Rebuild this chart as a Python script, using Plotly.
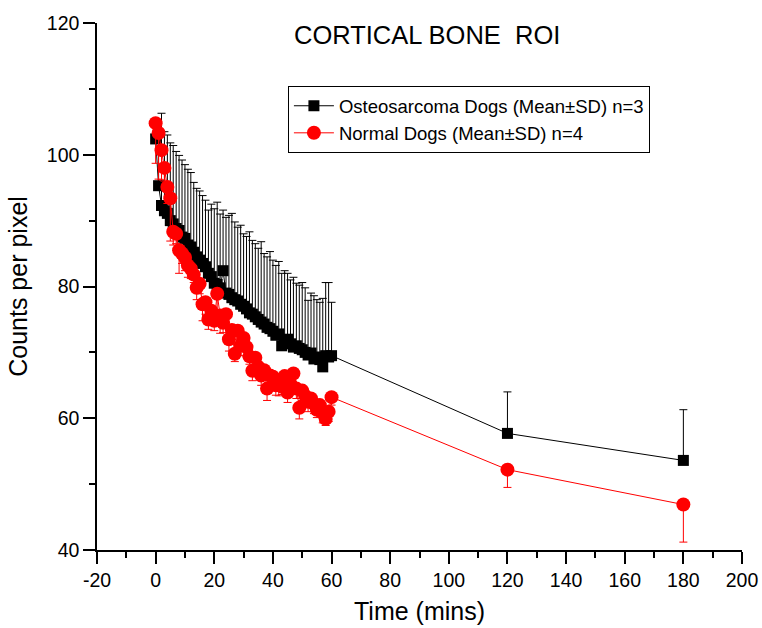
import plotly.graph_objects as go

# ---------------- data ----------------
time_min = list(range(0, 61)) + [120, 180]

osteo_mean = [102.4, 95.3, 92.3, 91.5, 91.1, 90.0, 89.5, 88.8, 88.5, 87.5,
              87.3, 86.3, 86.0, 85.2, 84.5, 84.0, 83.5, 83.0, 82.0, 81.5,
              80.5, 80.3, 79.8, 82.4, 79.0, 78.8, 78.3, 78.0, 77.8, 77.3,
              77.0, 76.6, 76.0, 75.8, 75.4, 75.0, 74.6, 74.3, 73.8, 73.6,
              73.2, 72.6, 72.8, 71.0, 71.8, 72.0, 71.3, 70.8, 71.0, 70.6,
              70.4, 70.0, 69.6, 69.9, 69.0, 69.3, 68.9, 67.8, 69.5, 69.3,
              69.5, 57.7, 53.6]
osteo_sd = [2.1, 8.2, 14.0, 12.0, 11.9, 11.8, 11.9, 11.7, 11.4, 11.7,
            11.2, 11.5, 11.3, 10.6, 10.4, 10.5, 10.3, 10.1, 9.6, 11.0,
            11.3, 12.5, 11.2, 9.2, 11.5, 12.0, 12.8, 11.8, 11.2, 12.0,
            11.0, 11.0, 12.3, 11.2, 11.1, 10.8, 12.2, 10.7, 10.7, 11.7,
            10.8, 10.6, 11.0, 11.0, 10.6, 10.0, 9.7, 10.6, 9.5, 9.6,
            10.2, 9.8, 8.3, 9.1, 9.6, 8.7, 8.7, 10.4, 11.1, 11.3,
            8.1, 6.3, 7.7]

normal_mean = [104.8, 103.3, 100.7, 98.0, 95.1, 93.4, 88.3, 88.0, 85.5, 85.0,
               84.4, 83.2, 82.7, 81.8, 79.8, 80.4, 77.3, 77.6, 75.0, 76.3,
               74.8, 78.9, 75.6, 74.5, 75.8, 72.0, 73.4, 69.8, 73.3, 71.0,
               72.2, 70.8, 69.4, 67.2, 69.2, 67.8, 66.5, 67.3, 64.5, 66.5,
               66.3, 65.0, 65.2, 64.8, 66.4, 63.9, 65.2, 66.8, 64.5, 61.6,
               64.2, 63.4, 62.5, 63.0, 62.2, 61.3, 62.0, 60.8, 59.9, 61.0,
               63.2, 52.2, 46.9]
normal_sd = [6.1, 7.0, 4.5, 2.0, 2.5, 6.5, 2.0, 1.5, 3.5, 1.5,
             2.0, 1.8, 1.5, 1.2, 1.8, 1.5, 2.5, 1.8, 1.5, 1.2,
             1.5, 3.3, 2.7, 1.5, 1.2, 1.8, 1.5, 1.2, 2.0, 1.5,
             1.8, 1.5, 1.2, 1.5, 2.3, 1.2, 1.5, 1.2, 1.8, 1.5,
             1.2, 1.5, 1.8, 1.2, 1.5, 1.5, 1.2, 1.8, 1.5, 1.7,
             1.5, 1.2, 1.5, 1.2, 1.5, 1.2, 1.5, 1.5, 1.0, 1.5,
             1.2, 2.7, 5.7]

x_tick_vals = [-20, 0, 20, 40, 60, 80, 100, 120, 140, 160, 180, 200]
x_tick_text = ["-20", "0", "20", "40", "60", "80", "100", "120", "140",
               "160", "180", "200"]

osteo_name = "Osteosarcoma Dogs (Mean\u00b1SD) n=3"
normal_name = "Normal Dogs (Mean\u00b1SD) n=4"
title_text = "CORTICAL BONE  ROI"
x_title = "Time (mins)"
y_title = "Counts per pixel"

FONT = "Liberation Sans, Arial, sans-serif"

fig = go.Figure()
fig.add_trace(go.Scatter(
    x=time_min, y=osteo_mean, name=osteo_name, mode="lines+markers",
    line=dict(color="black", width=1),
    marker=dict(symbol="square", size=11, color="black"),
    error_y=dict(type="data", symmetric=False, array=osteo_sd,
                 arrayminus=[0] * len(osteo_sd), color="black",
                 thickness=1, width=4),
))
fig.add_trace(go.Scatter(
    x=time_min, y=normal_mean, name=normal_name, mode="lines+markers",
    line=dict(color="#ff0000", width=1),
    marker=dict(symbol="circle", size=14, color="#ff0000"),
    error_y=dict(type="data", symmetric=False, array=[0] * len(normal_sd),
                 arrayminus=normal_sd, color="#ff0000",
                 thickness=1, width=4),
))

fig.update_layout(
    width=762, height=628,
    margin=dict(l=97, r=20, t=23, b=78),
    plot_bgcolor="white", paper_bgcolor="white",
    font=dict(family=FONT, color="black", size=18),
    showlegend=True,
    legend=dict(x=0.296, y=0.88, xanchor="left", yanchor="top",
                bordercolor="black", borderwidth=1, bgcolor="white",
                font=dict(size=18.5, family=FONT), tracegroupgap=0,
                itemwidth=40),
    annotations=[dict(text=title_text, x=0.512, y=0.977, xref="paper",
                      yref="paper", xanchor="center", yanchor="middle",
                      showarrow=False, font=dict(size=25.5, family=FONT))],
)
fig.update_xaxes(
    range=[-20, 200], tickmode="array", tickvals=x_tick_vals,
    ticktext=x_tick_text, automargin=False,
    showline=True, linecolor="black", linewidth=1.5, mirror=False,
    ticks="outside", ticklen=12, tickwidth=1.5, tickcolor="black",
    minor=dict(ticks="outside", ticklen=6, tickwidth=1.5, dtick=10,
               tick0=-20, tickcolor="black"),
    showgrid=False, zeroline=False,
    tickfont=dict(size=19.5, family=FONT),
    title=dict(text=x_title, font=dict(size=25, family=FONT), standoff=12),
)
fig.update_yaxes(
    range=[40, 120], tickmode="linear", tick0=40, dtick=20,
    automargin=False,
    showline=True, linecolor="black", linewidth=1.5, mirror=False,
    ticks="outside", ticklen=12, tickwidth=1.5, tickcolor="black",
    minor=dict(ticks="outside", ticklen=6, tickwidth=1.5, dtick=10,
               tickcolor="black"),
    showgrid=False, zeroline=False,
    tickfont=dict(size=19.5, family=FONT),
    title=dict(text=y_title, font=dict(size=25, family=FONT), standoff=12),
)

fig.write_html("out.html")
